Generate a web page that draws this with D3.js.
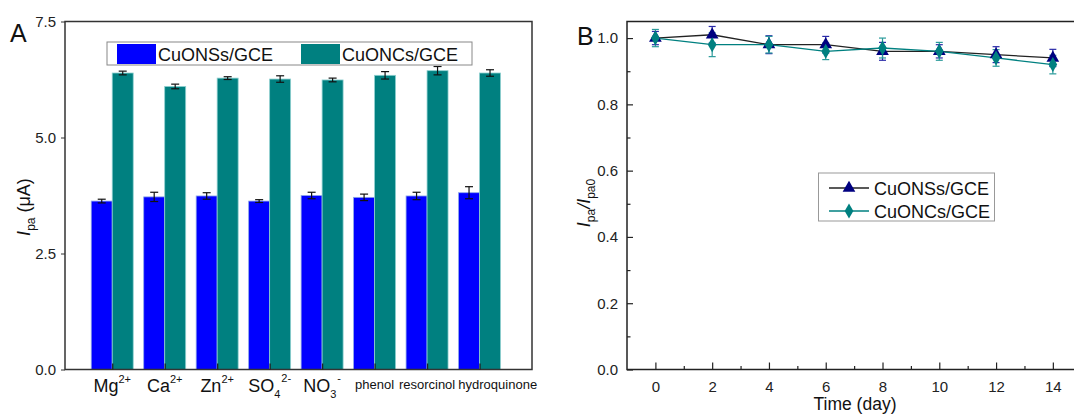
<!DOCTYPE html>
<html>
<head>
<meta charset="utf-8">
<script src="https://cdn.jsdelivr.net/npm/d3@7"></script>
<style>
  body { margin: 0; background: #fff; }
  svg, svg text { font-family: "Liberation Sans", Arial, sans-serif; }
</style>
</head>
<body>
<svg id="chart" width="1074" height="414"></svg>
<script>
// panel A - interference (bars)
const ions = [
  { base: "Mg", sup: "2+" }, { base: "Ca", sup: "2+" }, { base: "Zn", sup: "2+" },
  { base: "SO", sub: "4", sup: "2-" }, { base: "NO", sub: "3", sup: "-" },
  { base: "phenol", small: true }, { base: "resorcinol", small: true }, { base: "hydroquinone", small: true }
];
const onsValues = [3.63, 3.72, 3.74, 3.63, 3.75, 3.71, 3.74, 3.81];
const onsErrors = [0.04, 0.10, 0.07, 0.03, 0.07, 0.07, 0.08, 0.13];
const oncValues = [6.39, 6.10, 6.28, 6.26, 6.24, 6.34, 6.44, 6.39];
const oncErrors = [0.04, 0.05, 0.03, 0.07, 0.04, 0.08, 0.09, 0.07];
const yTicksA = [0, 2.5, 5.0, 7.5];

// panel B - stability (lines)
const days = [0, 2, 4, 6, 8, 10, 12, 14];
const onsStab = [1.00, 1.01, 0.98, 0.98, 0.96, 0.96, 0.95, 0.94];
const onsStabErr = [0.02, 0.025, 0.027, 0.025, 0.027, 0.02, 0.024, 0.026];
const oncStab = [1.00, 0.98, 0.98, 0.96, 0.97, 0.96, 0.94, 0.92];
const oncStabErr = [0.026, 0.036, 0.025, 0.025, 0.03, 0.027, 0.025, 0.028];
const yTicksB = [0, 0.2, 0.4, 0.6, 0.8, 1.0];
const xTicksB = [0, 2, 4, 6, 8, 10, 12, 14];

const blue = "#0000ff", teal = "#008080", navy = "#000080";
const font = "Liberation Sans, Arial, sans-serif";
const svg = d3.select("#chart");

// ---------- A ----------
const xA = d3.scaleLinear().domain([0.1, 9.0]).range([65, 532]);
const yA = d3.scaleLinear().domain([0, 7.5]).range([369.5, 21.5]);
const bw = 0.4;
const gA = svg.append("g");

// bars
gA.selectAll(".b1").data(onsValues).enter().append("rect")
  .attr("x", (d, i) => xA(i + 1 - bw)).attr("width", xA(bw) - xA(0))
  .attr("y", d => yA(d)).attr("height", d => yA(0) - yA(d))
  .attr("fill", blue).attr("stroke", "#8fa8e8").attr("stroke-width", 0.8);
gA.selectAll(".b2").data(oncValues).enter().append("rect")
  .attr("x", (d, i) => xA(i + 1)).attr("width", xA(bw) - xA(0))
  .attr("y", d => yA(d)).attr("height", d => yA(0) - yA(d))
  .attr("fill", teal).attr("stroke", "#8fd0d0").attr("stroke-width", 0.8);

function errBars(g, xs, vals, errs, x, y, color, cap) {
  vals.forEach((v, i) => {
    const cx = x(xs[i]);
    g.append("line").attr("x1", cx).attr("x2", cx).attr("y1", y(v - errs[i])).attr("y2", y(v + errs[i]))
      .attr("stroke", color).attr("stroke-width", 1.2);
    [v - errs[i], v + errs[i]].forEach(e => {
      g.append("line").attr("x1", cx - cap).attr("x2", cx + cap).attr("y1", y(e)).attr("y2", y(e))
        .attr("stroke", color).attr("stroke-width", 1.2);
    });
  });
}
errBars(gA, onsValues.map((d, i) => i + 1 - bw / 2), onsValues, onsErrors, xA, yA, "#111", 4);
errBars(gA, oncValues.map((d, i) => i + 1 + bw / 2), oncValues, oncErrors, xA, yA, "#111", 4);

// frame
gA.append("rect").attr("x", 65).attr("y", 21.5).attr("width", 467).attr("height", 348)
  .attr("fill", "none").attr("stroke", "#333").attr("stroke-width", 1.5);

// y axis
const axA = gA.append("g").attr("transform", "translate(65,0)")
  .call(d3.axisLeft(yA).tickValues(yTicksA).tickFormat(d3.format(".1f")).tickSize(4).tickPadding(5));
axA.attr("font-family", font);
axA.select(".domain").remove();
axA.selectAll("text").attr("font-size", 15).attr("fill", "#222");
axA.selectAll("line").attr("stroke", "#333");

// x axis ticks (inward, at group centers)
const axAx = gA.append("g").attr("transform", "translate(0,369.5)")
  .call(d3.axisBottom(xA).tickValues(d3.range(1, 9)).tickSize(-6).tickFormat(""));
axAx.select(".domain").remove();
axAx.selectAll("line").attr("stroke", "#222").attr("stroke-width", 1.3);

// x labels with sub/superscripts
let prevEnd = 0;
ions.forEach((c, i) => {
  const t = gA.append("text").attr("x", xA(i + 1)).attr("y", c.small ? 389 : 392)
    .attr("text-anchor", "middle").attr("fill", "#111")
    .attr("font-size", c.small ? 13 : 18);
  t.append("tspan").text(c.base);
  if (c.sub) t.append("tspan").attr("font-size", 11).attr("dy", 6).text(c.sub);
  if (c.sup) t.append("tspan").attr("font-size", 11).attr("dy", c.sub ? -16 : -9).attr("dx", c.sub ? 1 : 0).text(c.sup);
  // long small labels get nudged right so they do not run into the previous one
  const bb = t.node().getBBox();
  if (bb.x < prevEnd + 3) t.attr("x", +t.attr("x") + (prevEnd + 3 - bb.x));
  prevEnd = t.node().getBBox().x + t.node().getBBox().width;
});

// y label
const ylA = gA.append("text").attr("transform", "translate(30,207) rotate(-90)")
  .attr("text-anchor", "middle").attr("font-size", 18).attr("fill", "#111");
ylA.append("tspan").attr("font-style", "italic").text("I");
ylA.append("tspan").attr("font-size", 12).attr("dy", 5).text("pa");
ylA.append("tspan").attr("dy", -5).text(" (\u03bcA)");

// legend A
const legA = gA.append("g");
legA.append("rect").attr("x", 107).attr("y", 42).attr("width", 365).attr("height", 23)
  .attr("fill", "#fff").attr("stroke", "#888").attr("stroke-width", 1);
[["CuONSs/GCE", blue, 117], ["CuONCs/GCE", teal, 301]].forEach(([lbl, col, lx]) => {
  legA.append("rect").attr("x", lx).attr("y", 44).attr("width", 39).attr("height", 20).attr("fill", col);
  legA.append("text").attr("x", lx + 41).attr("y", 60.5).attr("font-size", 18).attr("fill", "#111").text(lbl);
});

svg.append("text").attr("x", 10).attr("y", 42).attr("font-size", 25).attr("fill", "#111").text("A");

// ---------- B ----------
const xB = d3.scaleLinear().domain([-1, 15]).range([627, 627 + 16 * 28.39]);
const yB = d3.scaleLinear().domain([0, 1.05]).range([369.5, 21.5]);
const gB = svg.append("g");

// frame (right side runs off the picture)
gB.append("path").attr("d", `M${xB(15)},21.5 H627 V369.5 H${xB(15)}`)
  .attr("fill", "none").attr("stroke", "#222").attr("stroke-width", 1.5);

const axBy = gB.append("g").attr("transform", "translate(627,0)")
  .call(d3.axisLeft(yB).tickValues(yTicksB).tickFormat(d3.format(".1f")).tickSize(-6).tickPadding(9));
axBy.attr("font-family", font);
axBy.select(".domain").remove();
axBy.selectAll("text").attr("font-size", 15).attr("fill", "#222");
axBy.selectAll("line").attr("stroke", "#222").attr("stroke-width", 1.2);
const axByMinor = gB.append("g").attr("transform", "translate(627,0)")
  .call(d3.axisLeft(yB).tickValues([0.1, 0.3, 0.5, 0.7, 0.9]).tickSize(-3.5).tickFormat(""));
axByMinor.select(".domain").remove();
axByMinor.selectAll("line").attr("stroke", "#222").attr("stroke-width", 1.2);

const axBx = gB.append("g").attr("transform", "translate(0,369.5)")
  .call(d3.axisBottom(xB).tickValues(xTicksB).tickSize(-7).tickPadding(12));
axBx.attr("font-family", font);
axBx.select(".domain").remove();
axBx.selectAll("text").attr("font-size", 15).attr("fill", "#222");
axBx.selectAll("line").attr("stroke", "#222").attr("stroke-width", 1.2);
const axBxMinor = gB.append("g").attr("transform", "translate(0,369.5)")
  .call(d3.axisBottom(xB).tickValues([1, 3, 5, 7, 9, 11, 13]).tickSize(-3.5).tickFormat(""));
axBxMinor.select(".domain").remove();
axBxMinor.selectAll("line").attr("stroke", "#222").attr("stroke-width", 1.2);

// lines
const line = d3.line().x(d => xB(d[0])).y(d => yB(d[1]));
gB.append("path").datum(days.map((d, i) => [d, onsStab[i]])).attr("d", line)
  .attr("fill", "none").attr("stroke", "#222").attr("stroke-width", 1.3);
gB.append("path").datum(days.map((d, i) => [d, oncStab[i]])).attr("d", line)
  .attr("fill", "none").attr("stroke", teal).attr("stroke-width", 1.3);

errBars(gB, days, onsStab, onsStabErr, xB, yB, "#2a2aa8", 3.5);
errBars(gB, days, oncStab, oncStabErr, xB, yB, "#2a9a9a", 3.5);

const tri = d3.symbol().type(d3.symbolTriangle).size(70);
const dia = d3.symbol().type(d3.symbolDiamond).size(65);
gB.selectAll(".tri").data(onsStab).enter().append("path").attr("d", tri)
  .attr("transform", (d, i) => `translate(${xB(days[i])},${yB(d)})`).attr("fill", navy);
gB.selectAll(".dia").data(oncStab).enter().append("path").attr("d", dia)
  .attr("transform", (d, i) => `translate(${xB(days[i])},${yB(d)})`).attr("fill", teal);

// axis titles
svg.append("text").attr("x", 855).attr("y", 410).attr("text-anchor", "middle")
  .attr("font-size", 17.5).attr("fill", "#111").text("Time (day)");
const ylB = svg.append("text").attr("transform", "translate(590,203) rotate(-90)")
  .attr("text-anchor", "middle").attr("font-size", 18).attr("fill", "#111");
ylB.append("tspan").attr("font-style", "italic").text("I");
ylB.append("tspan").attr("font-size", 12).attr("dy", 5).text("pa");
ylB.append("tspan").attr("dy", -5).attr("font-style", "italic").text("/I");
ylB.append("tspan").attr("font-size", 12).attr("dy", 5).text("pa0");

// legend B
const legB = svg.append("g");
legB.append("rect").attr("x", 818.5).attr("y", 173).attr("width", 176).attr("height", 48)
  .attr("fill", "#fff").attr("stroke", "#999").attr("stroke-width", 1);
[["CuONSs/GCE", "#222", navy, tri, 188], ["CuONCs/GCE", teal, teal, dia, 211]].forEach(([lbl, lc, mc, sym, ly]) => {
  legB.append("line").attr("x1", 829).attr("x2", 869).attr("y1", ly).attr("y2", ly)
    .attr("stroke", lc).attr("stroke-width", 1.3);
  legB.append("path").attr("d", sym).attr("transform", `translate(849,${ly})`).attr("fill", mc);
  legB.append("text").attr("x", 874).attr("y", ly + 6.5).attr("font-size", 18).attr("fill", "#111").text(lbl);
});

svg.append("text").attr("x", 577).attr("y", 45).attr("font-size", 25).attr("fill", "#111").text("B");
</script>
</body>
</html>
